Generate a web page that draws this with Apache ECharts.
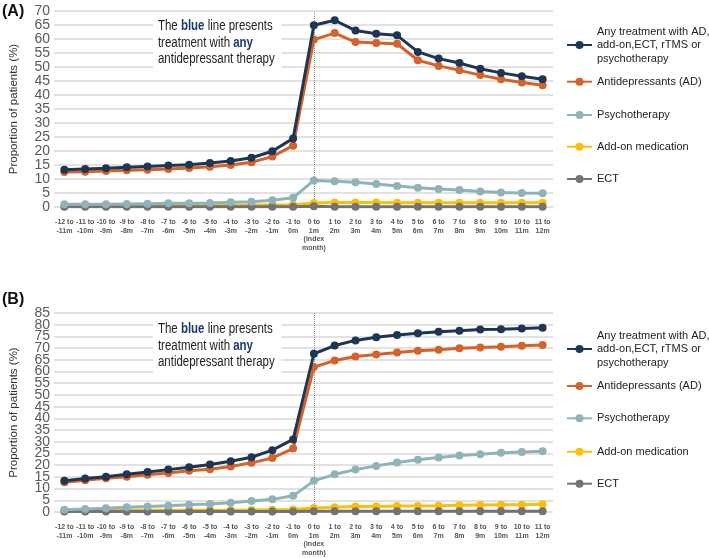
<!DOCTYPE html>
<html>
<head>
<meta charset="utf-8">
<script src="https://cdn.jsdelivr.net/npm/echarts@6/dist/echarts.min.js"></script>
<style>html,body{margin:0;padding:0;background:#fff}#c{width:709px;height:558px}</style>
</head>
<body>
<div id="c"></div>
<script>
var categories = ['-12 to\n-11m','-11 to\n-10m','-10 to\n-9m','-9 to\n-8m','-8 to\n-7m','-7 to\n-6m','-6 to\n-5m','-5 to\n-4m','-4 to\n-3m','-3 to\n-2m','-2 to\n-1m','-1 to\n0m','0 to\n1m\n(index\nmonth)','1 to\n2m','2 to\n3m','3 to\n4m','4 to\n5m','5 to\n6m','6 to\n7m','7 to\n8m','8 to\n9m','9 to\n10m','10 to\n11m','11 to\n12m'];
var seriesNames = ['Any treatment with AD,\nadd-on,ECT, rTMS or\npsychotherapy','Antidepressants (AD)','Psychotherapy','Add-on medication','ECT'];
var indexMonth = '0 to\n1m\n(index\nmonth)';

// Panel A
var anyA   = [13.3,13.6,13.8,14.2,14.5,14.8,15.1,15.7,16.4,17.6,19.9,24.5,64.9,66.7,63.0,61.9,61.3,55.4,53.0,51.4,49.4,47.9,46.7,45.6];
var adA    = [12.5,12.6,12.9,13.1,13.3,13.6,13.9,14.4,15.0,16.0,18.0,21.9,59.8,62.1,58.9,58.6,58.3,52.4,50.4,48.8,47.1,45.6,44.5,43.5];
var psyA   = [1.0,1.0,1.0,1.1,1.2,1.3,1.3,1.4,1.7,1.9,2.4,3.3,9.5,9.2,8.8,8.2,7.5,6.9,6.4,6.1,5.5,5.2,5.0,4.9];
var addA   = [0.5,0.5,0.5,0.5,0.5,0.6,0.6,0.6,0.6,0.7,0.7,0.8,1.4,1.6,1.6,1.6,1.5,1.5,1.5,1.5,1.5,1.5,1.5,1.5];
var ectA   = [0.1,0.1,0.1,0.1,0.1,0.1,0.1,0.1,0.1,0.1,0.1,0.1,0.3,0.1,0.1,0.1,0.1,0.1,0.1,0.1,0.1,0.1,0.1,0.1];

// Panel B
var anyB   = [13.3,14.3,15.1,16.1,17.1,18.1,19.1,20.3,21.7,23.4,26.4,31.0,67.6,71.1,73.3,74.6,75.6,76.4,77.0,77.4,77.9,78.1,78.4,78.7];
var adB    = [12.7,13.6,14.4,15.1,15.9,16.7,17.6,18.3,19.4,21.0,23.1,27.1,61.9,64.7,66.4,67.3,68.1,68.9,69.3,69.9,70.3,70.6,71.0,71.3];
var psyB   = [1.0,1.3,1.6,2.0,2.3,2.7,3.1,3.4,4.0,4.7,5.4,6.9,13.3,16.1,18.1,19.7,21.1,22.3,23.3,24.1,24.7,25.3,25.6,25.9];
var addB   = [0.7,0.7,0.7,0.7,0.7,0.8,0.8,0.8,0.8,0.9,1.0,1.1,1.7,2.0,2.3,2.4,2.6,2.6,2.7,2.9,3.0,3.1,3.1,3.3];
var ectB   = [0.2,0.2,0.2,0.2,0.2,0.2,0.2,0.2,0.2,0.2,0.2,0.2,0.3,0.3,0.3,0.3,0.3,0.3,0.3,0.3,0.3,0.3,0.3,0.3];

var yTicksA = {min:0, max:70, interval:5};
var yTicksB = {min:0, max:85, interval:5};

var colors = ['#1e3553','#d4622b','#8fb3b9','#fbbf0b','#737373'];
var SANS = '"Liberation Sans",Arial,sans-serif';
var yLabelStyle = {fontSize:14, color:'#5a5a5a', fontFamily:SANS, margin:4};

var chart = echarts.init(document.getElementById('c'), null, {renderer:'canvas'});

function xAxisCfg(gi){
  return {
    type:'category', gridIndex:gi, data:categories, boundaryGap:true,
    axisLine:{show:false}, axisTick:{show:false},
    axisLabel:{interval:0, fontSize:7, lineHeight:8.6, color:'#555', fontFamily:SANS, fontWeight:'bold', margin:11, hideOverlap:false}
  };
}
function yAxisCfg(gi, t, showEnds){
  var lab = Object.assign({}, yLabelStyle, {showMinLabel:showEnds, showMaxLabel:showEnds, hideOverlap:false});
  return {
    type:'value', gridIndex:gi, position:'left', offset:0, min:t.min, max:t.max, interval:t.interval,
    name:'Proportion of patients (%)', nameLocation:'middle', nameRotate:90, nameGap:34,
    nameTextStyle:{fontSize:11.5, color:'#333', fontFamily:SANS},
    axisLine:{show:false}, axisTick:{show:false},
    axisLabel:lab,
    splitLine:{lineStyle:{color:'#d8d8d8', width:1.5}}
  };
}
// overlay axis on panel B that carries only the end labels (0 and 85)
var yEndsB = {
  type:'value', gridIndex:1, position:'left', offset:0,
  min:yTicksB.min, max:yTicksB.max, interval:yTicksB.max - yTicksB.min,
  axisLine:{show:false}, axisTick:{show:false}, splitLine:{show:false},
  axisLabel:Object.assign({}, yLabelStyle, {showMinLabel:true, showMaxLabel:true})
};
function mk(name, data, ci, gi, z, withLine){
  var s = {
    name:name, type:'line', xAxisIndex:gi, yAxisIndex:gi, data:data,
    symbol:'circle', symbolSize:8, showSymbol:true,
    lineStyle:{width:3, color:colors[ci]}, itemStyle:{color:colors[ci]},
    z:z, animation:false
  };
  if (withLine){
    s.markLine = {silent:true, symbol:'none', label:{show:false},
      lineStyle:{type:'dotted', color:'#888', width:1},
      data:[{xAxis:indexMonth}]};
  }
  return s;
}
var series = [];
var dataA = [anyA, adA, psyA, addA, ectA];
var dataB = [anyB, adB, psyB, addB, ectB];
var zs = [10,9,8,6,7];
for (var i=0;i<5;i++){ series.push(mk(seriesNames[i], dataA[i], i, 0, zs[i], i===4)); }
for (var i=0;i<5;i++){ series.push(mk(seriesNames[i], dataB[i], i, 1, zs[i], i===4)); }

var legendCentersA = [45, 81.7, 115, 146.7, 179];
var legendCentersB = [349, 386, 418.3, 451.7, 483.7];
var legends = [];
function addLegends(centers){
  for (var i=0;i<5;i++){
    var lines = seriesNames[i].split('\n').length;
    var h = lines*13.5;
    legends.push({
      data:[seriesNames[i]], orient:'vertical', left:566, top:centers[i]-h/2,
      padding:0, itemWidth:25, itemHeight:10, selectedMode:false,
      textStyle:{fontSize:11, lineHeight:13.5, color:'#222', fontFamily:SANS}
    });
  }
}
addLegends(legendCentersA);
addLegends(legendCentersB);

var noteText = '{n|The }{b|blue}{n| line presents}\n{n|treatment with }{b|any}\n{n|antidepressant therapy}';
function noteGraphic(top){
  return {
    type:'text', left:153, top:top, scaleX:0.82, z:100,
    style:{
      text:noteText, backgroundColor:'#fff', padding:[3,8,3,6],
      rich:{
        n:{fontSize:14, lineHeight:16.5, fill:'#222', fontWeight:'normal', fontFamily:SANS},
        b:{fontSize:14, lineHeight:16.5, fill:'#1f3770', fontWeight:'bold', fontFamily:SANS}
      }
    }
  };
}

var option = {
  backgroundColor:'#fff',
  animation:false,
  title:[
    {text:'(A)', left:2, top:4, padding:0, textStyle:{fontSize:16, fontWeight:'bold', color:'#111', fontFamily:SANS}},
    {text:'(B)', left:2, top:292, padding:0, textStyle:{fontSize:16, fontWeight:'bold', color:'#111', fontFamily:SANS}}
  ],
  graphic:[noteGraphic(15), noteGraphic(318)],
  grid:[
    {left:50, top:11, width:503, height:196},
    {left:50, top:313, width:503, height:199}
  ],
  xAxis:[xAxisCfg(0), xAxisCfg(1)],
  yAxis:[yAxisCfg(0, yTicksA, true), yAxisCfg(1, yTicksB, false), yEndsB],
  legend:legends,
  series:series
};
chart.setOption(option);
</script>
</body>
</html>
